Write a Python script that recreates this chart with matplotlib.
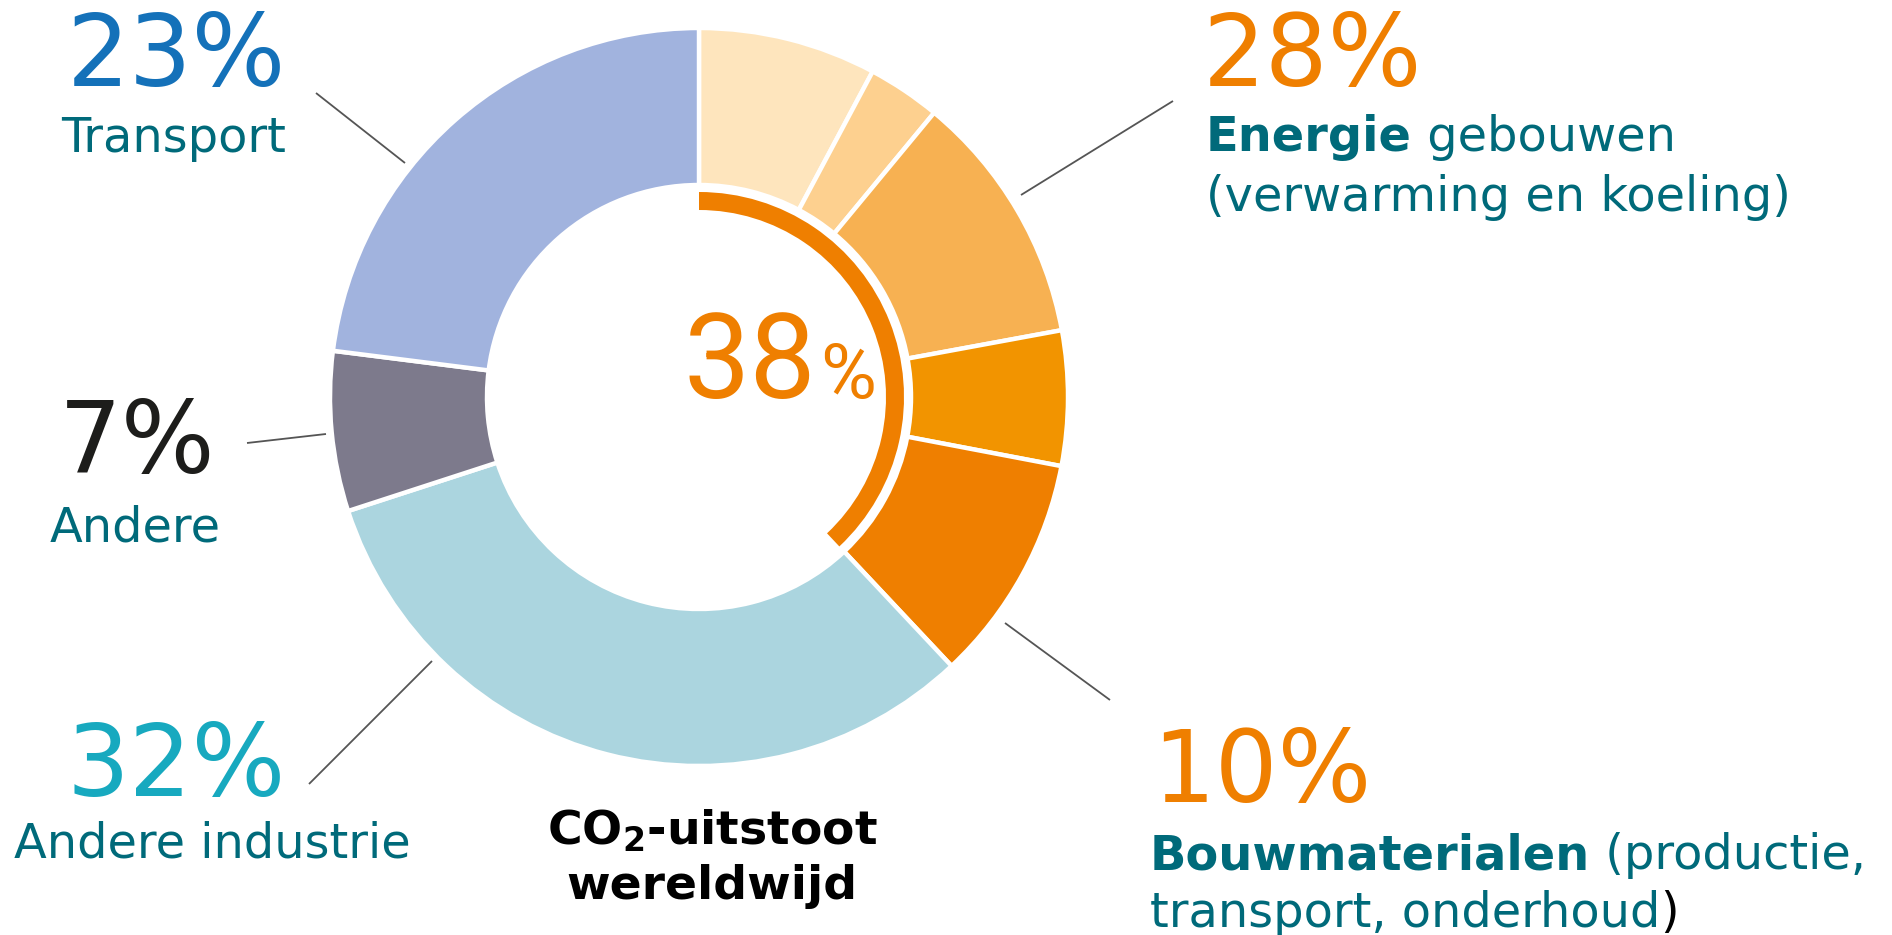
import matplotlib
matplotlib.use("Agg")
import matplotlib.pyplot as plt

plt.rcParams["mathtext.fontset"] = "dejavusans"

# ---- data ----
segment_labels = ["Energie 1", "Energie 2", "Energie 3", "Energie 4",
                  "Bouwmaterialen", "Andere industrie", "Andere", "Transport"]
segment_values = [7.8, 3.2, 11.1, 5.9, 10, 32, 7, 23]
segment_colors = ["#fee5bd", "#fdd08f", "#f7b152", "#f29400",
                  "#ef7f00", "#abd5df", "#7d7a8c", "#a1b3de"]
buildings_share = 38  # energie + bouwmaterialen

pct_texts = ["23%", "28%", "7%", "32%", "10%"]

W, H = 1892, 935
fig = plt.figure(figsize=(W / 100, H / 100), dpi=100)
ax = fig.add_axes([0, 0, 1, 1])

cx, cy = 699, H - 397
R_out, R_in = 369, 212

ax.pie(segment_values, colors=segment_colors, startangle=90, counterclock=False,
       radius=R_out, center=(cx, cy),
       wedgeprops=dict(width=R_out - R_in, edgecolor="white", linewidth=3.2))
ax.pie([buildings_share, 100 - buildings_share], colors=["#ef7f00", "none"],
       startangle=90, counterclock=False, radius=205, center=(cx, cy),
       wedgeprops=dict(width=18, linewidth=0))

ax.set_xlim(0, W)
ax.set_ylim(0, H)
ax.set_aspect("equal")
ax.axis("off")

TEAL = "#006a7a"
ORANGE = "#ef7f00"
PCT = 71
LBL = 34.5

def Y(y):
    return H - y

# leader lines
lines = [((316, 93), (405, 163)),
         ((1173, 101), (1021, 195)),
         ((247, 443), (326, 434)),
         ((309, 784), (432, 661)),
         ((1110, 700), (1005, 623))]
for (x0, y0), (x1, y1) in lines:
    ax.plot([x0, x1], [Y(y0), Y(y1)], color="#555555", lw=1.3, solid_capstyle="butt")

fig.canvas.draw()
renderer = fig.canvas.get_renderer()

def rich(x, y, parts, size=LBL):
    for txt, kw in parts:
        t = ax.text(x, Y(y), txt, fontsize=size, va="baseline", ha="left", **kw)
        bb = t.get_window_extent(renderer=renderer)
        x = bb.x1

# Transport
ax.text(176, Y(86), pct_texts[0], fontsize=PCT, color="#1471b9", ha="center", va="baseline")
ax.text(174, Y(152), "Transport", fontsize=LBL, color=TEAL, ha="center", va="baseline")

# Energie
ax.text(1203, Y(86), pct_texts[1], fontsize=PCT, color=ORANGE, ha="left", va="baseline")
rich(1206, 151, [("Energie", dict(color=TEAL, fontweight="bold")),
                 (" gebouwen", dict(color=TEAL))])
ax.text(1206, Y(211), "(verwarming en koeling)", fontsize=LBL, color=TEAL, ha="left", va="baseline")

# Andere
ax.text(137, Y(473), pct_texts[2], fontsize=PCT, color="#1d1d1b", ha="center", va="baseline")
ax.text(135, Y(541), "Andere", fontsize=LBL, color=TEAL, ha="center", va="baseline")

# Andere industrie
ax.text(176, Y(796), pct_texts[3], fontsize=PCT, color="#17a9bf", ha="center", va="baseline")
ax.text(212, Y(857), "Andere industrie", fontsize=LBL, color=TEAL, ha="center", va="baseline")

# Bouwmaterialen
ax.text(1152, Y(802), pct_texts[4], fontsize=PCT, color=ORANGE, ha="left", va="baseline")
rich(1150, 869, [("Bouwmaterialen", dict(color=TEAL, fontweight="bold")),
                 (" (productie,", dict(color=TEAL))])
rich(1150, 927, [("transport, onderhoud", dict(color=TEAL)),
                 (")", dict(color="black"))])

# center
ax.text(816, Y(398), "38", fontsize=85, color=ORANGE, ha="right", va="baseline",
        family="Roboto")
ax.text(820, Y(398), "%", fontsize=55, color=ORANGE, ha="left", va="baseline",
        family="Roboto")

# title
ax.text(712, Y(845), r"$\mathbf{CO_2}$" + "-uitstoot", fontsize=34, color="black",
        fontweight="bold", ha="center", va="baseline")
ax.text(712, Y(899), "wereldwijd", fontsize=34, color="black", fontweight="bold",
        ha="center", va="baseline")

fig.savefig("out.png", dpi=100, facecolor="white")
